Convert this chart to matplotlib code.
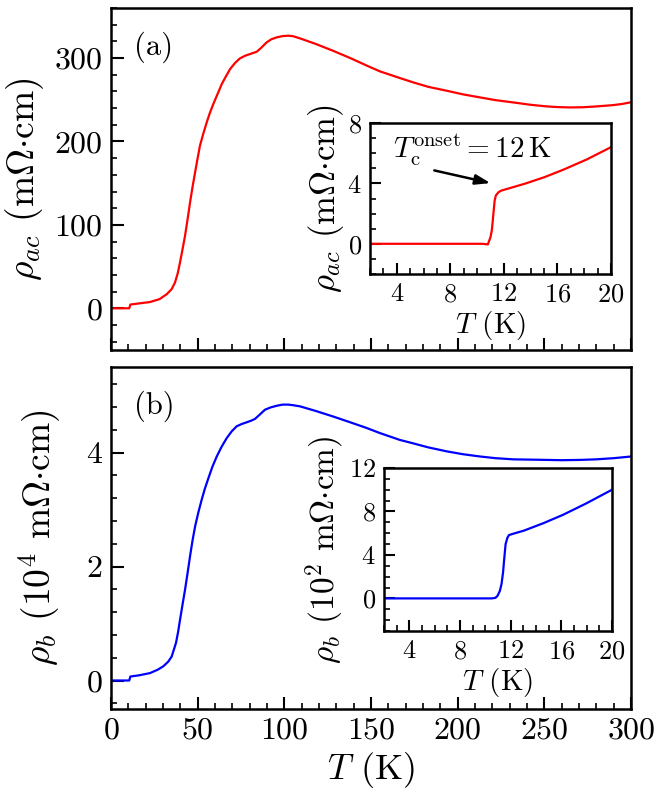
#!/usr/bin/env python3
# -*- coding: utf-8 -*-

import matplotlib
matplotlib.use('Agg')
import matplotlib.pyplot as plt
from matplotlib.ticker import MultipleLocator

plt.rcParams['font.family'] = 'serif'
plt.rcParams['font.serif'] = ['cmr10', 'DejaVu Serif']
plt.rcParams['mathtext.fontset'] = 'cm'
plt.rcParams['axes.formatter.use_mathtext'] = True
plt.rcParams['axes.unicode_minus'] = False

# main panel (a): rho_ac vs T
T_a = [0, 10.5, 11.2, 16, 22.5, 28, 32.1, 35, 36.9, 38.5, 39.8, 41.2, 42.7, 44.2, 45.6,
       47, 48.5, 49.9, 51.3, 53.2, 55.2, 57, 59, 61.5, 63.9, 66.3, 68.7, 71.5, 74.4,
       77.3, 80.2, 84.1, 86.5, 89.8, 92.5, 95.6, 99, 102.3, 105, 109, 118, 128, 138,
       147.5, 155.2, 166.7, 174.4, 183, 193.7, 203, 212.9, 222, 232, 242, 251.4, 258,
       264.8, 272, 280, 289.8, 295, 300]
rho_a = [0, 0, 4.5, 5.8, 7.5, 11, 16.8, 23, 30.8, 42, 54.8, 70, 86.8, 107, 126.8,
         145, 162.8, 179, 194.8, 209, 222.8, 234, 244.8, 257, 268.8, 278, 286.8, 294, 299.6,
         302.7, 304.8, 307.6, 312, 318.8, 322.5, 324.8, 326.3, 326.8, 326.2, 323.6, 317, 308.8, 300,
         291, 284, 276, 270.8, 265.5, 260.8, 256.5, 252.8, 249.5, 246.8, 244, 242, 241.2,
         240.8, 241, 242, 243.6, 245, 247]

# main panel (b): rho_b vs T (1e4 mOhm cm)
T_b = [0, 10.5, 11.2, 16, 22.5, 27, 30.2, 33, 35, 37.5, 38.7, 39.8, 41.2, 42.7, 44.2,
       45.6, 47, 48.5, 50.4, 52.3, 54.2, 56.2, 58.5, 61, 63.8, 66.7, 69.6, 72.5, 75.4,
       78.3, 81, 83.1, 86, 88.8, 92, 95.6, 99, 102.3, 105, 109, 118, 128.3, 138, 147.5,
       155.2, 166.7, 174.4, 183, 193.7, 203, 212.9, 222, 232, 242, 251.4, 260, 270.6,
       280, 289.8, 295, 300]
rho_b = [0, 0, 0.07, 0.09, 0.13, 0.19, 0.25, 0.33, 0.42, 0.66, 0.85, 1.06, 1.32, 1.59, 1.89,
         2.18, 2.45, 2.70, 2.95, 3.17, 3.37, 3.55, 3.75, 3.93, 4.10, 4.25, 4.37, 4.46, 4.50,
         4.53, 4.56, 4.59, 4.67, 4.75, 4.79, 4.82, 4.84, 4.84, 4.83, 4.81, 4.73, 4.63, 4.53, 4.43,
         4.34, 4.22, 4.16, 4.09, 4.02, 3.97, 3.93, 3.90, 3.88, 3.875, 3.87, 3.865, 3.87,
         3.88, 3.90, 3.915, 3.93]

# inset (a): low-T rho_ac
Ti_a = [2, 10.4, 10.8, 11.0, 11.1, 11.17, 11.25, 11.31, 11.4, 11.6, 11.8, 12.1,
        13.57, 15.05, 16.5, 18.2, 20]
rhoi_a = [0, 0, -0.04, 0.44, 0.9, 1.55, 2.3, 2.87, 3.2, 3.42, 3.52, 3.6,
          3.98, 4.42, 4.93, 5.59, 6.4]

# inset (b): low-T rho_b (1e2 mOhm cm)
Ti_b = [2, 10.5, 10.8, 10.97, 11.15, 11.28, 11.4, 11.48, 11.6, 11.75, 11.87, 12.2,
        13.03, 14.58, 16.13, 17.93, 20]
rhoi_b = [0, 0, 0.05, 0.25, 0.7, 1.34, 2.4, 3.5, 5.0, 5.6, 5.83, 5.95,
          6.23, 6.92, 7.69, 8.72, 10.0]

W, H = 669, 794
fig = plt.figure(figsize=(W / 100, H / 100), dpi=100)


def px(l, t, r, b):
    return [l / W, 1 - b / H, (r - l) / W, (b - t) / H]


def style(ax, fs, maj=9, mnr=4.5):
    for s in ax.spines.values():
        s.set_linewidth(1.8)
    ax.tick_params(which='both', direction='in', top=False, right=False,
                   labelsize=fs, pad=6)
    ax.tick_params(which='major', length=maj, width=1.5)
    ax.tick_params(which='minor', length=mnr, width=1.2)


lab_ac = r'$\rho_{ac}$ (m$\Omega{\cdot}$cm)'
lab_b4 = r'$\rho_{b}$ (10$^4$ m$\Omega{\cdot}$cm)'
lab_b2 = r'$\rho_{b}$ (10$^2$ m$\Omega{\cdot}$cm)'
lab_T = r'$T$ (K)'

ax1 = fig.add_axes(px(111, 8, 631, 350))
ax2 = fig.add_axes(px(111, 367, 631, 709))

ax1.plot(T_a, rho_a, color='#ff0000', lw=1.6)
ax1.set_xlim(0, 300)
ax1.set_ylim(-50, 360)
ax1.xaxis.set_major_locator(MultipleLocator(50))
ax1.xaxis.set_minor_locator(MultipleLocator(10))
ax1.yaxis.set_major_locator(MultipleLocator(100))
ax1.yaxis.set_minor_locator(MultipleLocator(20))
style(ax1, 23)
ax1.tick_params(labelbottom=False)
ax1.set_ylabel(lab_ac, fontsize=27, labelpad=6)
ax1.text(0.045, 0.93, '(a)', transform=ax1.transAxes, fontsize=22, va='top')

ax2.plot(T_b, rho_b, color='#0000ff', lw=1.6)
ax2.set_xlim(0, 300)
ax2.set_ylim(-0.5, 5.5)
ax2.xaxis.set_major_locator(MultipleLocator(50))
ax2.xaxis.set_minor_locator(MultipleLocator(10))
ax2.yaxis.set_major_locator(MultipleLocator(2))
ax2.yaxis.set_minor_locator(MultipleLocator(0.4))
style(ax2, 23)
ax2.set_ylabel(lab_b4, fontsize=27, labelpad=16)
ax2.set_xlabel(lab_T, fontsize=26, labelpad=4)
ax2.text(0.045, 0.93, '(b)', transform=ax2.transAxes, fontsize=22, va='top')

# insets
in1 = fig.add_axes(px(370, 123, 611, 274))
in1.plot(Ti_a, rhoi_a, color='#ff0000', lw=1.6)
in1.set_xlim(2, 20)
in1.set_ylim(-2, 8)
in1.xaxis.set_major_locator(MultipleLocator(4))
in1.xaxis.set_minor_locator(MultipleLocator(1))
in1.yaxis.set_major_locator(MultipleLocator(4))
in1.yaxis.set_minor_locator(MultipleLocator(1))
style(in1, 19, 8, 4)
in1.set_ylabel(lab_ac, fontsize=25, labelpad=1)
in1.set_xlabel(lab_T, fontsize=21, labelpad=2)
in1.text(9.6, 6.2, r'$T_{\mathrm{c}}^{\mathrm{onset}} = 12\,\mathrm{K}$', fontsize=21,
         ha='center', va='center')
in1.annotate('', xy=(11.0, 4.02), xytext=(6.8, 4.86),
             arrowprops=dict(arrowstyle='-|>,head_length=0.9,head_width=0.3',
                             color='k', lw=1.8, shrinkA=0, shrinkB=0))

in2 = fig.add_axes(px(384, 468, 612, 631))
in2.plot(Ti_b, rhoi_b, color='#0000ff', lw=1.6)
in2.set_xlim(2, 20)
in2.set_ylim(-3, 12)
in2.xaxis.set_major_locator(MultipleLocator(4))
in2.xaxis.set_minor_locator(MultipleLocator(1))
in2.yaxis.set_major_locator(MultipleLocator(4))
in2.yaxis.set_minor_locator(MultipleLocator(1))
style(in2, 19, 8, 4)
in2.set_ylabel(lab_b2, fontsize=24, labelpad=1)
in2.set_xlabel(lab_T, fontsize=21, labelpad=2)

fig.savefig('out.png', dpi=100)
